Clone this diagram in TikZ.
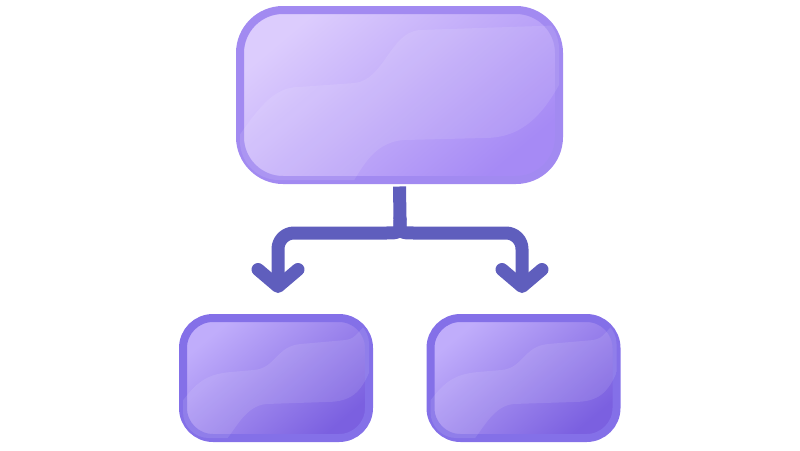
\documentclass[tikz,border=0pt]{standalone}
\usetikzlibrary{arrows.meta}

\definecolor{rootlight}{HTML}{DCCCFD}
\definecolor{rootdark}{HTML}{A68AF5}
\definecolor{rootline}{HTML}{A28AF1}
\definecolor{leaflight}{HTML}{C0ADFB}
\definecolor{leafdark}{HTML}{7B60E0}
\definecolor{leafline}{HTML}{8470E8}
\definecolor{linkblue}{HTML}{5F5EBD}

\begin{document}
\begin{tikzpicture}[x=1pt,y=-1pt]
	\tikzset{rootbox/.style={draw=rootline, line width=8pt, rounded corners=43pt, inner sep=0pt,
			top color=rootlight, bottom color=rootdark, shading angle=40,
			minimum width=319pt, minimum height=170pt}}
	\tikzset{leafbox/.style={draw=leafline, line width=8pt, rounded corners=30pt, inner sep=0pt,
			top color=leaflight, bottom color=leafdark, shading angle=40,
			minimum width=186pt, minimum height=120pt}}
	\tikzset{gloss/.style={fill=white, opacity=0.1}}
	\tikzset{link/.style={draw=linkblue, line width=13pt, line cap=round, line join=round}}
	\useasboundingbox (0,0) rectangle (800,450);

	\node[rootbox] (root) at (399.5,95) {};
	\node[leafbox] (left) at (276,378) {};
	\node[leafbox] (right) at (523.5,378) {};

	% gloss bands
	\begin{scope}
		\clip[rounded corners=39pt] ([shift={(4pt,4pt)}]root.south west) rectangle ([shift={(-4pt,-4pt)}]root.north east);
		\fill[gloss, shift={(root.center)}] (-170,55) .. controls (-140,10) and (-125,-8) .. (-100,-8) -- (-45,-12)
			.. controls (-15,-15) and (-10,-62) .. (20,-65) -- (170,-70) -- (170,-30)
			.. controls (150,10) and (130,43) .. (85,43) -- (5,45) .. controls (-30,47) and (-40,80) .. (-55,100)
			-- (-170,100) -- cycle;
	\end{scope}
	\foreach \leaf in {left,right} {
		\begin{scope}
			\clip[rounded corners=26pt] ([shift={(4pt,4pt)}]\leaf.south west) rectangle ([shift={(-4pt,-4pt)}]\leaf.north east);
			\fill[gloss, shift={(\leaf.center)}] (-95,25) .. controls (-80,5) and (-70,-4) .. (-45,-6) -- (-22,-8)
				.. controls (0,-10) and (0,-32) .. (25,-34) -- (70,-38) .. controls (78,-40) .. (95,-60) -- (95,-10)
				.. controls (85,15) and (75,24) .. (50,24) -- (-10,26) .. controls (-30,28) and (-40,50) .. (-50,62)
				-- (-95,62) -- cycle;
		\end{scope}
	}

	% connectors
	\coordinate (split) at (400,219);
	\coordinate (lefttip) at (278,293);
	\coordinate (righttip) at (522,293);
	\draw[link, line cap=butt] ([yshift=-2.5pt]root.south) -- (split);
	\draw[link, -{Straight Barb[length=17pt, width=40pt, round]}] (split) .. controls (400,233) .. (386,233)
		[rounded corners=16pt] -- (278,233) -- (lefttip);
	\draw[link, -{Straight Barb[length=17pt, width=40pt, round]}] (split) .. controls (400,233) .. (414,233)
		[rounded corners=16pt] -- (522,233) -- (righttip);
\end{tikzpicture}
\end{document}
